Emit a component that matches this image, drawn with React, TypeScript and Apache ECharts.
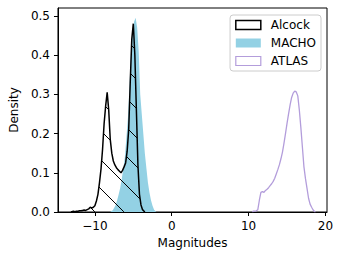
import React, { useEffect, useRef } from 'react';
import * as echarts from 'echarts';

const ALCOCK_X = [-13.0, -12.8, -12.6, -12.4, -12.2, -12.0, -11.8, -11.6, -11.4, -11.2, -11.0, -10.8, -10.6, -10.4, -10.2, -10.0, -9.8, -9.6, -9.4, -9.2, -9.0, -8.8, -8.6, -8.4, -8.2, -8.0, -7.8, -7.6, -7.4, -7.2, -7.0, -6.8, -6.6, -6.4, -6.2, -6.0, -5.8, -5.6, -5.4, -5.2, -5.0, -4.8, -4.6, -4.4, -4.2, -4.0, -3.8, -3.6];
const ALCOCK_Y = [0.001, 0.002, 0.001, 0.002, 0.002, 0.003, 0.003, 0.004, 0.005, 0.004, 0.006, 0.008, 0.012, 0.010, 0.012, 0.016, 0.028, 0.045, 0.075, 0.11, 0.16, 0.225, 0.27, 0.305, 0.26, 0.185, 0.15, 0.13, 0.12, 0.113, 0.108, 0.104, 0.100, 0.106, 0.115, 0.125, 0.155, 0.21, 0.33, 0.44, 0.48, 0.40, 0.26, 0.12, 0.045, 0.018, 0.006, 0.002];

const MACHO_X = [-7.9, -7.7, -7.5, -7.3, -7.1, -6.9, -6.7, -6.5, -6.3, -6.1, -5.9, -5.7, -5.5, -5.3, -5.1, -4.9, -4.7, -4.5, -4.3, -4.1, -3.9, -3.7, -3.5, -3.3, -3.1, -2.9, -2.7, -2.5, -2.3, -2.1];
const MACHO_Y = [0.002, 0.004, 0.010, 0.018, 0.030, 0.045, 0.062, 0.085, 0.11, 0.14, 0.19, 0.24, 0.32, 0.41, 0.46, 0.485, 0.495, 0.47, 0.41, 0.30, 0.25, 0.20, 0.15, 0.112, 0.075, 0.05, 0.03, 0.016, 0.006, 0.002];

const ATLAS_X = [10.6, 10.8, 11.0, 11.2, 11.4, 11.6, 11.8, 12.0, 12.2, 12.4, 12.6, 12.8, 13.0, 13.2, 13.4, 13.6, 13.8, 14.0, 14.2, 14.4, 14.6, 14.8, 15.0, 15.2, 15.4, 15.6, 15.8, 16.0, 16.2, 16.4, 16.6, 16.8, 17.0, 17.2, 17.4, 17.6, 17.8, 18.0, 18.2, 18.4, 18.6];
const ATLAS_Y = [0.002, 0.002, 0.003, 0.006, 0.03, 0.05, 0.052, 0.05, 0.055, 0.058, 0.062, 0.067, 0.072, 0.078, 0.086, 0.097, 0.108, 0.12, 0.135, 0.152, 0.175, 0.2, 0.226, 0.25, 0.273, 0.292, 0.303, 0.308, 0.306, 0.296, 0.26, 0.215, 0.165, 0.115, 0.085, 0.06, 0.035, 0.02, 0.012, 0.005, 0.001];

const X_TICKS = [-10, 0, 10, 20];
const Y_TICKS = [0, 0.1, 0.2, 0.3, 0.4, 0.5];

const BIN = 0.2;
const FONT = 'DejaVu Sans';
const MACHO_COLOR = '#93d1e4';
const ATLAS_COLOR = '#b39ddb';

function histData(xs: number[], ys: number[]) {
  const out: number[][] = [[xs[0] - BIN / 2, 0]];
  xs.forEach((x, i) => out.push([x, ys[i]]));
  out.push([xs[xs.length - 1] + BIN / 2, 0]);
  return out;
}

function renderHatch(_params: any, api: any) {
  const pts = histData(ALCOCK_X, ALCOCK_Y).map((p) => api.coord(p));
  const base = api.coord([0, 0])[1];
  const n = pts.length;
  const left = pts[0][0];
  const right = pts[n - 1][0];
  const topAt = (x: number) => {
    for (let i = 0; i < n - 1; i++) {
      const [x0, y0] = pts[i];
      const [x1, y1] = pts[i + 1];
      if (x >= x0 && x <= x1) {
        const t = x1 === x0 ? 0 : (x - x0) / (x1 - x0);
        return y0 + t * (y1 - y0);
      }
    }
    return base;
  };
  const SP = 29;
  const C0 = 1;
  const minTop = Math.min(...pts.map((p: number[]) => p[1]));
  const kMin = Math.floor((minTop - right - C0) / SP) - 1;
  const kMax = Math.ceil((base - left - C0) / SP) + 1;
  const children: any[] = [];
  const push = (a: number, b: number, c: number) => {
    if (b - a > 0.5) {
      children.push({ type: 'line', shape: { x1: a, y1: a + c, x2: b, y2: b + c }, style: { stroke: '#000', lineWidth: 1 } });
    }
  };
  for (let k = kMin; k <= kMax; k++) {
    const c = C0 + k * SP;
    let start: number | null = null;
    let last = 0;
    for (let x = left; x <= right; x += 0.2) {
      const y = x + c;
      const inside = y >= topAt(x) && y <= base;
      if (inside) {
        if (start === null) start = x;
        last = x;
      } else if (start !== null) {
        push(start, last, c);
        start = null;
      }
    }
    if (start !== null) push(start, last, c);
  }
  return { type: 'group', children };
}

export default function App() {
  const ref = useRef<HTMLDivElement>(null);
  useEffect(() => {
    if (!ref.current) return;
    const chart = echarts.init(ref.current, undefined, { renderer: 'svg' });
    chart.setOption({
      animation: false,
      backgroundColor: '#fff',
      textStyle: { fontFamily: FONT },
      grid: { left: 53, right: 14, top: 8, bottom: 46, show: true, borderColor: '#000', borderWidth: 1, backgroundColor: 'transparent' },
      legend: {
        orient: 'vertical',
        right: 20,
        top: 15,
        padding: [4, 5, 4, 5],
        itemWidth: 25,
        itemHeight: 9,
        itemGap: 6,
        borderColor: '#cccccc',
        borderWidth: 1,
        borderRadius: 3,
        backgroundColor: '#fff',
        textStyle: { fontFamily: FONT, fontSize: 12, color: '#000', padding: [0, 0, 0, 5] },
        data: [
          { name: 'Alcock', icon: 'rect', itemStyle: { color: '#fff', borderColor: '#000', borderWidth: 1.5 } },
          { name: 'MACHO', icon: 'rect', itemStyle: { color: MACHO_COLOR, borderWidth: 0 } },
          { name: 'ATLAS', icon: 'rect', itemStyle: { color: '#fff', borderColor: ATLAS_COLOR, borderWidth: 1.2 } },
        ],
      },
      xAxis: {
        type: 'value',
        min: -14.8,
        max: 20.2,
        name: 'Magnitudes',
        nameLocation: 'middle',
        nameGap: 23,
        nameTextStyle: { fontFamily: FONT, fontSize: 12, color: '#000' },
        axisLine: { show: true, onZero: false, lineStyle: { color: '#000', width: 1 } },
        axisTick: { show: true, length: 4, lineStyle: { color: '#000', width: 1 }, customValues: X_TICKS },
        axisLabel: {
          fontFamily: FONT, fontSize: 12, color: '#000', margin: 8,
          customValues: X_TICKS,
          formatter: (v: number) => (v < 0 ? '\u2212' + Math.abs(v) : String(v)),
        },
        splitLine: { show: false },
      },
      yAxis: {
        type: 'value',
        min: 0,
        max: 0.52,
        name: 'Density',
        nameLocation: 'middle',
        nameGap: 34,
        nameTextStyle: { fontFamily: FONT, fontSize: 12, color: '#000' },
        axisLine: { show: true, onZero: false, lineStyle: { color: '#000', width: 1 } },
        axisTick: { show: true, length: 4, lineStyle: { color: '#000', width: 1 }, customValues: Y_TICKS },
        axisLabel: {
          fontFamily: FONT, fontSize: 12, color: '#000', margin: 8,
          customValues: Y_TICKS,
          formatter: (v: number) => v.toFixed(1),
        },
        splitLine: { show: false },
      },
      series: [
        {
          name: 'Alcock', type: 'line', symbol: 'none', z: 4,
          data: histData(ALCOCK_X, ALCOCK_Y),
          itemStyle: { color: '#000' },
          lineStyle: { color: '#000', width: 1.5 },
        },
        {
          name: 'MACHO', type: 'line', symbol: 'none', z: 2,
          data: histData(MACHO_X, MACHO_Y),
          itemStyle: { color: MACHO_COLOR },
          lineStyle: { width: 0, color: MACHO_COLOR },
          areaStyle: { color: MACHO_COLOR, opacity: 1 },
        },
        {
          name: 'ATLAS', type: 'line', symbol: 'none', z: 4,
          data: histData(ATLAS_X, ATLAS_Y),
          itemStyle: { color: ATLAS_COLOR },
          lineStyle: { color: ATLAS_COLOR, width: 1.3 },
        },
        {
          name: 'hatch', type: 'custom', z: 3, silent: true,
          renderItem: renderHatch,
          data: [[-5, 0.1]],
          encode: { x: 0, y: 1 },
        },
      ],
    });
    return () => chart.dispose();
  }, []);
  return <div ref={ref} style={{ position: 'fixed', left: 0, top: 0, width: 341, height: 258 }} />;
}
